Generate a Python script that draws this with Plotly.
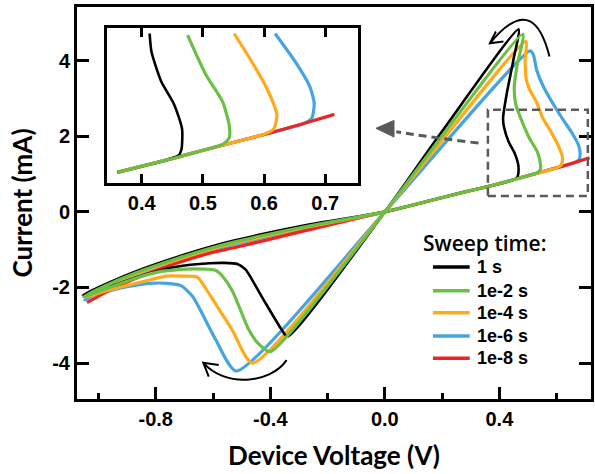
import plotly.graph_objects as go

# ---------------- data ----------------
black_v = [0, 0.16, 0.28, 0.36, 0.44, 0.46, 0.465, 0.466, 0.453, 0.432, 0.416, 0.413, 0.426, 0.449, 0.467,
           0.195, 0, -0.34, -0.36, -0.43, -0.486, -0.515, -0.56, -0.612, -0.728, -0.843, -0.96, -1.055,
           -0.96, -0.843, -0.728, -0.612, -0.527, -0.296, 0]
black_i = [0, 0.30, 0.53, 0.67, 0.83, 0.89, 0.97, 1.24, 1.56, 1.86, 2.25, 2.49, 3.14, 4.02, 4.83,
           2.08, 0, -3.30, -3.12, -2.24, -1.53, -1.38, -1.35, -1.36, -1.45, -1.67, -1.98, -2.20,
           -1.86, -1.50, -1.20, -0.93, -0.76, -0.38, 0]

green_v = [0, 0.16, 0.28, 0.36, 0.44, 0.51, 0.533, 0.543, 0.543, 0.532, 0.505, 0.475, 0.457, 0.452, 0.461, 0.482,
           0, -0.40, -0.44, -0.475, -0.531, -0.566, -0.59, -0.67, -0.786, -0.866, -0.96, -1.052,
           -0.96, -0.843, -0.728, -0.612, -0.527, -0.296, 0]
green_i = [0, 0.30, 0.53, 0.67, 0.83, 0.98, 1.04, 1.12, 1.29, 1.60, 1.95, 2.47, 2.85, 3.31, 3.84, 4.70,
           0, -3.70, -3.50, -3.12, -2.11, -1.71, -1.55, -1.51, -1.58, -1.74, -2.00, -2.24,
           -1.90, -1.54, -1.24, -0.97, -0.80, -0.42, 0]

orange_v = [0, 0.16, 0.28, 0.36, 0.44, 0.51, 0.60, 0.616, 0.621, 0.607, 0.580, 0.551, 0.530, 0.505, 0.494, 0.490, 0.493,
            0, -0.463, -0.533, -0.578, -0.615, -0.654, -0.70, -0.764, -0.843, -0.959, -1.051,
            -0.96, -0.843, -0.728, -0.612, -0.527, -0.296, 0]
orange_i = [0, 0.30, 0.53, 0.67, 0.83, 0.98, 1.17, 1.24, 1.42, 1.73, 2.12, 2.49, 2.90, 3.25, 3.50, 4.02, 4.51,
            0, -4.00, -3.12, -2.59, -2.15, -1.73, -1.70, -1.70, -1.84, -2.06, -2.26,
            -1.93, -1.57, -1.27, -1.00, -0.83, -0.44, 0]

blue_v = [0, 0.16, 0.28, 0.36, 0.44, 0.51, 0.602, 0.665, 0.678, 0.682, 0.675, 0.651, 0.618, 0.554, 0.530, 0.519, 0.507,
          0, -0.519, -0.590, -0.671, -0.712, -0.76, -0.821, -0.901, -1.017, -1.047,
          -0.96, -0.843, -0.728, -0.612, -0.527, -0.296, 0]
blue_i = [0, 0.30, 0.53, 0.67, 0.83, 0.98, 1.17, 1.31, 1.38, 1.57, 1.79, 2.12, 2.49, 3.31, 3.76, 4.15, 4.26,
          0, -4.21, -3.39, -2.24, -1.95, -1.89, -1.89, -1.98, -2.20, -2.33,
          -1.96, -1.60, -1.30, -1.03, -0.86, -0.46, 0]

red_v = [-1.04, -0.96, -0.843, -0.728, -0.612, -0.527, -0.296, 0, 0.16, 0.28, 0.36, 0.44, 0.51, 0.602, 0.665, 0.715]
red_i = [-2.40, -2.07, -1.68, -1.36, -1.09, -0.95, -0.53, 0, 0.30, 0.53, 0.67, 0.83, 0.98, 1.17, 1.31, 1.43]

series_names = ["1 s", "1e-2 s", "1e-4 s", "1e-6 s", "1e-8 s"]
legend_title = "Sweep time:"

x_tickvals = [-0.8, -0.4, 0.0, 0.4]
x_ticktext = ["-0.8", "-0.4", "0.0", "0.4"]
y_tickvals = [-4, -2, 0, 2, 4]
y_ticktext = ["-4", "-2", "0", "2", "4"]
inset_tickvals = [0.4, 0.5, 0.6, 0.7]
inset_ticktext = ["0.4", "0.5", "0.6", "0.7"]

# ---------------- styling ----------------
colors = {"1 s": "#000000", "1e-2 s": "#6cbf45", "1e-4 s": "#ffaa1a", "1e-6 s": "#46a4e0", "1e-8 s": "#ee2424"}
curves = {"1 s": (black_v, black_i), "1e-2 s": (green_v, green_i), "1e-4 s": (orange_v, orange_i),
          "1e-6 s": (blue_v, blue_i), "1e-8 s": (red_v, red_i)}
draw_order = ["1e-6 s", "1e-8 s", "1e-4 s", "1 s", "1e-2 s"]


def inset_window(v, i, vmin=0.35, imax=2.5):
    """first contiguous run of points inside the zoomed window"""
    idx = [k for k in range(len(v)) if v[k] >= vmin and 0 < i[k] <= imax]
    start = idx[0]
    end = start
    while end + 1 < len(v) and v[end + 1] >= vmin and 0 < i[end + 1] <= imax:
        end += 1
    return v[start:end + 1], i[start:end + 1]


fig = go.Figure()
for name in draw_order:
    v, i = curves[name]
    w = 2.6 if name == "1 s" else 3.2
    fig.add_trace(go.Scatter(x=v, y=i, mode="lines", name=name, showlegend=False,
                             line=dict(color=colors[name], width=w, shape="spline", smoothing=0.6, simplify=False)))
for name in draw_order:
    v, i = inset_window(*curves[name])
    w = 2.6 if name == "1 s" else 3.2
    fig.add_trace(go.Scatter(x=v, y=i, mode="lines", name=name, showlegend=False,
                             line=dict(color=colors[name], width=w, shape="spline", smoothing=0.6, simplify=False),
                             xaxis="x2", yaxis="y2"))

tick_font = dict(family="Liberation Sans, Arial", size=20, color="black", weight="bold")
title_font = dict(family="Lato", size=26, color="black", weight="bold")
XR = [-1.075, 0.72]
YR = [-4.95, 5.42]

fig.update_layout(
    width=595, height=474,
    margin=dict(l=77, r=1, t=7, b=75),
    paper_bgcolor="white", plot_bgcolor="white",
    showlegend=False,
    xaxis=dict(range=XR, tickvals=x_tickvals, ticktext=x_ticktext, ticks="inside", ticklen=12, tickwidth=2.5,
               tickcolor="black", showline=True, linewidth=3, linecolor="black", mirror=True,
               showgrid=False, zeroline=False, tickfont=tick_font,
               minor=dict(tick0=0, dtick=0.2, ticks="inside", ticklen=6, tickwidth=2.5, tickcolor="black", showgrid=False),
               title=dict(text="Device Voltage (V)", font=title_font, standoff=18)),
    xaxis3=dict(range=XR, overlaying="x", side="top", anchor="y", tick0=0, dtick=0.2, ticks="inside",
                ticklen=9, tickwidth=2.5, tickcolor="black", showticklabels=False, showgrid=False,
                zeroline=False, showline=False),
    yaxis=dict(range=YR, tickvals=y_tickvals, ticktext=y_ticktext, ticks="inside", ticklen=12, tickwidth=2.5,
               tickcolor="black", showline=True, linewidth=3, linecolor="black", mirror="ticks",
               showgrid=False, zeroline=False, tickfont=tick_font,
               title=dict(text="Current (mA)", font=title_font, standoff=13)),
    xaxis2=dict(domain=[0.058, 0.546], anchor="y2", range=[0.343, 0.753], tickvals=inset_tickvals,
                ticktext=inset_ticktext, ticks="inside", ticklen=9, tickwidth=2.5, tickcolor="black",
                showline=True, linewidth=2.5, linecolor="black", mirror="ticks", showgrid=False,
                zeroline=False, tickfont=tick_font),
    yaxis2=dict(domain=[0.551, 0.946], anchor="x2", range=[0.53, 2.56], showticklabels=False, ticks="",
                showline=True, linewidth=2.5, linecolor="black", mirror=True, showgrid=False, zeroline=False),
)

# ---- hand-built legend (paper coordinates) ----
fig.add_annotation(text=legend_title, xref="paper", yref="paper", x=0.669, y=0.398, xanchor="left",
                   yanchor="middle", showarrow=False,
                   font=dict(family="Open Sans", size=21, color="black", weight=600))
legend_rows_y = [0.3367, 0.2763, 0.2202, 0.1607, 0.1038]
for name, yy in zip(series_names, legend_rows_y):
    fig.add_shape(type="line", xref="paper", yref="paper", x0=0.6925, x1=0.764, y0=yy, y1=yy,
                  line=dict(color=colors[name], width=3.5))
    fig.add_annotation(text=name, xref="paper", yref="paper", x=0.774, y=yy, xanchor="left", yanchor="middle",
                       showarrow=False, font=dict(family="Liberation Sans, Arial", size=18, color="black",
                                                  weight="bold"))

# dashed zoom box
fig.add_shape(type="rect", xref="x", yref="y", x0=0.36, x1=0.709, y0=0.42, y1=2.70,
              line=dict(color="#5a5a5a", width=2.5, dash="8px,5px"))
# dashed pointer arrow
fig.add_shape(type="path", xref="x", yref="y", path="M 0.327,1.82 Q 0.18,1.95 0.04,2.12",
              line=dict(color="#5a5a5a", width=3, dash="8px,5px"))
fig.add_shape(type="path", xref="x", yref="y", path="M -0.031,2.21 L 0.032,2.42 L 0.032,1.98 Z",
              fillcolor="#5a5a5a", line=dict(color="#5a5a5a", width=1))
# curved sweep-direction arrows
fig.add_shape(type="path", xref="x", yref="y", path="M 0.575,4.11 C 0.545,5.0 0.49,5.6 0.367,4.46",
              line=dict(color="black", width=2))
fig.add_shape(type="path", xref="x", yref="y", path="M 0.414,4.505 L 0.367,4.46 L 0.388,4.77",
              line=dict(color="black", width=2))
fig.add_shape(type="path", xref="x", yref="y", path="M -0.343,-3.92 C -0.40,-4.55 -0.56,-4.65 -0.634,-3.99",
              line=dict(color="black", width=2))
fig.add_shape(type="path", xref="x", yref="y", path="M -0.580,-4.05 L -0.634,-3.99 L -0.615,-4.36",
              line=dict(color="black", width=2))

fig.write_html("out.html")
